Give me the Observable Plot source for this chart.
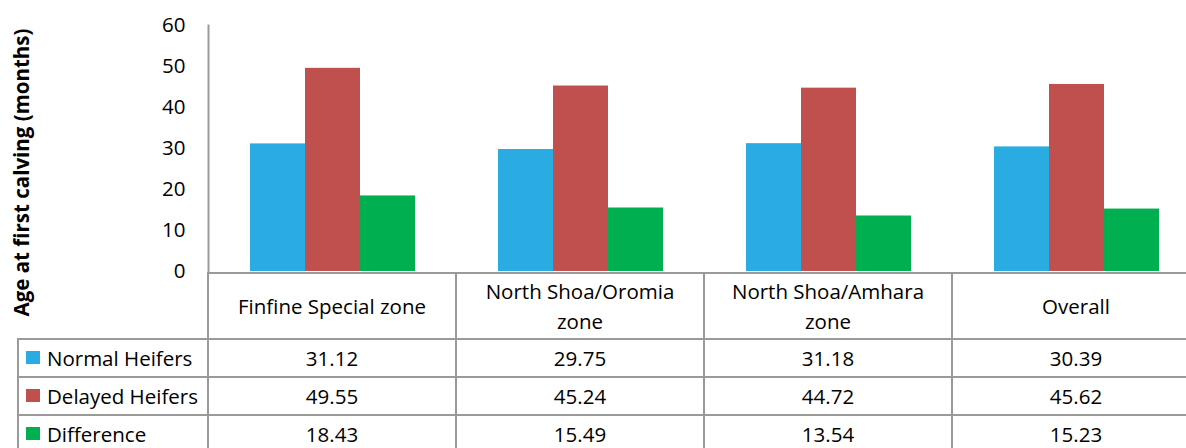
<!DOCTYPE html>
<html>
<head>
<meta charset="utf-8">
<script src="https://cdn.jsdelivr.net/npm/d3@7"></script>
<script src="https://cdn.jsdelivr.net/npm/@observablehq/plot@0.6"></script>
<style>
  html, body { margin: 0; padding: 0; background: #fff; overflow: hidden; }
  #chart { position: relative; width: 1186px; height: 448px; overflow: hidden;
           font-family: "Open Sans", sans-serif; font-size: 20.5px; color: #000; }
  #chart svg { position: absolute; left: 0; top: 0; }
  .cell { position: absolute; display: flex; align-items: center; justify-content: center;
          text-align: center; box-sizing: border-box; line-height: 30px; padding: 0 12px; }
  .rowhead { position: absolute; display: flex; align-items: center; box-sizing: border-box; white-space: nowrap; }
  .swatch { display: inline-block; width: 14px; height: 13px; margin-right: 7px; }
  .rule { position: absolute; background: #9a9a9a; }
</style>
</head>
<body>
<div id="chart"></div>
<script>
// Age at first calving by zone
const zones = ["Finfine Special zone", "North Shoa/Oromia zone", "North Shoa/Amhara zone", "Overall"];
const seriesNames = ["Normal Heifers", "Delayed Heifers", "Difference"];
const normalHeifers = [31.12, 29.75, 31.18, 30.39];
const delayedHeifers = [49.55, 45.24, 44.72, 45.62];
const difference = [18.43, 15.49, 13.54, 15.23];
const seriesColors = ["#2AABE2", "#C0504D", "#00B050"];
const yTicks = [0, 10, 20, 30, 40, 50, 60];
const yLabel = "Age at first calving (months)";

const seriesValues = [normalHeifers, delayedHeifers, difference];
const rows = zones.flatMap((zone, i) =>
  seriesNames.map((series, j) => ({zone, series, value: seriesValues[j][i]})));

const root = document.getElementById("chart");

const chart = Plot.plot({
  width: 1200,
  height: 273,
  marginLeft: 208,
  marginRight: 0,
  marginTop: 25,
  marginBottom: 2,
  style: {fontFamily: '"Open Sans", sans-serif', fontSize: "20.5px", maxWidth: "none",
          overflow: "visible", background: "transparent", color: "#000"},
  fx: {domain: zones, padding: 0, axis: null},
  x: {domain: seriesNames, paddingInner: 0, paddingOuter: 0.75, axis: null},
  y: {domain: [0, 60], axis: null},
  color: {domain: seriesNames, range: seriesColors},
  marks: [
    Plot.barY(rows, {fx: "zone", x: "series", y: "value", fill: "series"}),
    Plot.axisY({ticks: yTicks, tickSize: 0, tickPadding: 23, fontSize: 20.5, label: null, facetAnchor: "left"}),
    Plot.frame({anchor: "left", stroke: "#9a9a9a", strokeOpacity: 1, strokeWidth: 2, facetAnchor: "left"}),
    Plot.text([yLabel], {text: d => d, frameAnchor: "left", textAnchor: "middle", rotate: -90,
                         dx: -186, dy: 24, fontWeight: "bold", fontSize: 20.5, facetAnchor: "left"})
  ]
});
root.appendChild(chart);

// Data table under the bars, with columns taken from the fx scale
const fx = chart.scale("fx");
const bw = fx.bandwidth;
const colLeft = zones.map(z => fx.apply(z));
const tableRight = colLeft[colLeft.length - 1] + bw;
const tableLeft = 18;
const rowEdges = [272.5, 338.5, 376.5, 414.5, 452.5];

function rule(x0, y0, x1, y1) {
  const d = document.createElement("div");
  d.className = "rule";
  if (x0 === x1) {
    Object.assign(d.style, {left: (x0 - 1) + "px", top: (y0 - 1) + "px", width: "2px", height: (y1 - y0 + 2) + "px"});
  } else {
    Object.assign(d.style, {left: (x0 - 1) + "px", top: (y0 - 1) + "px", width: (x1 - x0 + 2) + "px", height: "2px"});
  }
  root.appendChild(d);
}

function cell(x0, y0, w, h, text) {
  const d = document.createElement("div");
  d.className = "cell";
  Object.assign(d.style, {left: x0 + "px", top: y0 + "px", width: w + "px", height: h + "px"});
  d.textContent = text;
  root.appendChild(d);
}

// header row with zone names
zones.forEach((z, i) => cell(colLeft[i], rowEdges[0], bw, rowEdges[1] - rowEdges[0], z));

// one row per series
seriesNames.forEach((s, j) => {
  const y0 = rowEdges[j + 1], h = rowEdges[j + 2] - y0;
  const head = document.createElement("div");
  head.className = "rowhead";
  Object.assign(head.style, {left: (tableLeft + 8) + "px", top: y0 + "px", height: h + "px"});
  const sw = document.createElement("span");
  sw.className = "swatch";
  sw.style.background = seriesColors[j];
  head.appendChild(sw);
  head.appendChild(document.createTextNode(s));
  root.appendChild(head);
  zones.forEach((z, i) => cell(colLeft[i], y0, bw, h, seriesValues[j][i].toFixed(2)));
});

// grid lines
rule(colLeft[0], rowEdges[0], tableRight, rowEdges[0]);
rowEdges.slice(1).forEach(y => rule(tableLeft, y, tableRight, y));
rule(tableLeft, rowEdges[1], tableLeft, rowEdges[4]);
colLeft.concat([tableRight]).forEach(x => rule(x, rowEdges[0], x, rowEdges[4]));
</script>
</body>
</html>
